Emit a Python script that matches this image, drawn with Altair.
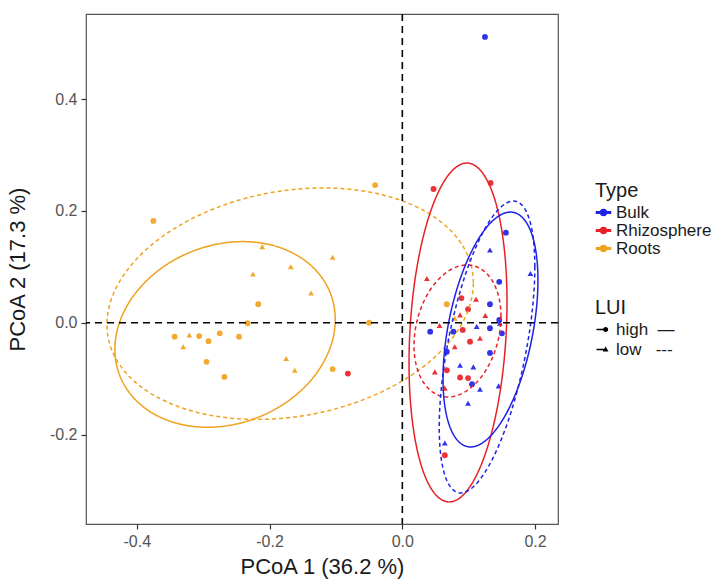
import numpy as np
import pandas as pd
import altair as alt

# PCoA sample scores (axis 1, axis 2) per compartment and land-use intensity
bulk_x = [0.1245, 0.156, 0.132, 0.193, 0.146, 0.132, 0.146, 0.147, 0.042, 0.077, 0.112,
          0.132, 0.150, 0.067, 0.132, 0.087, 0.107, 0.105, 0.117, 0.145, 0.099, 0.064]
bulk_y = [0.511, 0.161, 0.130, 0.088, 0.073, 0.033, 0.005, -0.001, -0.016, -0.016, -0.007,
          -0.010, -0.019, -0.052, -0.054, -0.076, -0.079, -0.110, -0.119, -0.113, -0.144, -0.215]
bulk_lui = ["high", "high", "low", "low", "high", "high", "high", "low", "high", "high", "low",
            "high", "high", "high", "high", "low", "low", "high", "low", "low", "low", "low"]

rhizo_x = [0.047, 0.133, -0.082, 0.037, 0.089, 0.111, 0.099, 0.087, 0.125, 0.056,
           0.091, 0.079, 0.102, 0.117, 0.049, 0.067, 0.087, 0.099, 0.064, 0.064]
rhizo_y = [0.239, 0.250, -0.091, 0.079, 0.044, 0.042, 0.024, 0.014, 0.013, -0.005,
           -0.013, -0.043, -0.034, -0.028, -0.088, -0.085, -0.098, -0.099, -0.117, -0.237]
rhizo_lui = ["high", "high", "high", "low", "high", "low", "high", "low", "low", "low",
             "high", "low", "high", "low", "low", "high", "high", "high", "low", "high"]

roots_x = [-0.375, -0.041, -0.211, -0.105, -0.168, -0.225, -0.1375, -0.217, -0.233, -0.050,
           -0.343, -0.321, -0.306, -0.292, -0.275, -0.246, -0.330, -0.295, -0.175, -0.268,
           -0.162, -0.105, 0.067, 0.079]
roots_y = [0.182, 0.246, 0.136, 0.117, 0.100, 0.087, 0.053, 0.033, -0.001, 0.000,
           -0.025, -0.022, -0.024, -0.033, -0.019, -0.025, -0.043, -0.070, -0.064, -0.097,
           -0.085, -0.083, 0.033, 0.008]
roots_lui = ["high", "high", "low", "low", "low", "low", "low", "high", "high", "high",
             "high", "low", "high", "high", "high", "high", "low", "high", "low", "high",
             "low", "high", "high", "low"]

# Confidence ellipses: centre, half-extent along each axis and correlation
ell_type = ["Roots", "Roots", "Rhizosphere", "Rhizosphere", "Bulk", "Bulk"]
ell_lui = ["high", "low", "high", "low", "high", "low"]
ell_cx = [-0.267, -0.169, 0.0839, 0.0831, 0.1328, 0.1276]
ell_cy = [-0.021, 0.034, -0.0175, -0.0148, -0.0122, -0.0435]
ell_rx = [0.166, 0.276, 0.0738, 0.0655, 0.0715, 0.072]
ell_ry = [0.166, 0.207, 0.303, 0.118, 0.210, 0.261]
ell_rho = [0.16, 0.18, 0.18, 0.22, 0.42, 0.55]

type_names = ["Bulk", "Rhizosphere", "Roots"]
type_colors = ["#1E22E6", "#E82127", "#F0A21E"]
lui_levels = ["high", "low"]

points = pd.concat([
    pd.DataFrame({"Type": "Bulk", "LUI": bulk_lui, "PCoA1": bulk_x, "PCoA2": bulk_y}),
    pd.DataFrame({"Type": "Rhizosphere", "LUI": rhizo_lui, "PCoA1": rhizo_x, "PCoA2": rhizo_y}),
    pd.DataFrame({"Type": "Roots", "LUI": roots_lui, "PCoA1": roots_x, "PCoA2": roots_y}),
], ignore_index=True)

# Ellipse outlines traced from their parameters
theta = np.linspace(0, 2 * np.pi, 181)
frames = []
for typ, lui, cx, cy, rx, ry, rho in zip(ell_type, ell_lui, ell_cx, ell_cy, ell_rx, ell_ry, ell_rho):
    shift = np.arccos(rho)
    frames.append(pd.DataFrame({
        "Type": typ, "LUI": lui, "grp": typ + "-" + lui, "i": np.arange(len(theta)),
        "PCoA1": cx + rx * np.cos(theta),
        "PCoA2": cy + ry * np.cos(theta - shift),
    }))
ellipses = pd.concat(frames, ignore_index=True)

minus_fix = "replace(format(datum.value, '.1f'), '\u2212', '-')"

x_enc = alt.X("PCoA1:Q",
              scale=alt.Scale(domain=[-0.4765, 0.2345], nice=False, zero=False),
              axis=alt.Axis(values=[-0.4, -0.2, 0.0, 0.2], labelExpr=minus_fix,
                            title="PCoA 1 (36.2 %)", titlePadding=7, labelPadding=4))
y_enc = alt.Y("PCoA2:Q",
              scale=alt.Scale(domain=[-0.360, 0.552], nice=False, zero=False),
              axis=alt.Axis(values=[-0.2, 0.0, 0.2, 0.4], labelExpr=minus_fix,
                            title="PCoA 2 (17.3 %)", titlePadding=20, labelPadding=4))

# Legend keys: a thin bar (the line) with the point glyph on top, all filled
type_symbol = ("M-1,-0.09H1V0.09H-1Z"
               "M-0.42,0A0.42,0.42,0,1,1,0.42,0A0.42,0.42,0,1,1,-0.42,0Z")
high_symbol = ("M-1,-0.09H0.3V0.09H-1Z"
               "M-0.05,0A0.36,0.36,0,1,1,0.67,0A0.36,0.36,0,1,1,-0.05,0Z")
low_symbol = ("M-1,-0.09H0.3V0.09H-1Z"
              "M0.3,-0.42L0.72,0.3L-0.12,0.3Z")

color_enc = alt.Color(
    "Type:N",
    scale=alt.Scale(domain=type_names, range=type_colors),
    legend=alt.Legend(
        title="Type", orient="none", legendX=509, legendY=167,
        symbolType=type_symbol, symbolSize=196, symbolOpacity=1,
        labelFontSize=17, titleFontSize=20, rowPadding=0, titlePadding=3, labelOffset=4,
    ),
)

point_layer = alt.Chart(points).mark_point(filled=True, size=34, opacity=0.92).encode(
    x=x_enc, y=y_enc, color=color_enc,
    shape=alt.Shape("LUI:N",
                    scale=alt.Scale(domain=lui_levels, range=["circle", "triangle-up"]),
                    legend=None),
)

ellipse_layer = alt.Chart(ellipses).mark_line(strokeWidth=1.5, clip=True).encode(
    x=x_enc, y=y_enc, color=color_enc,
    strokeDash=alt.StrokeDash("LUI:N",
                              scale=alt.Scale(domain=lui_levels, range=[[1, 0], [4, 3]]),
                              legend=None),
    detail="grp:N", order="i:Q",
)

# Key for the LUI levels (no marks of its own; the legend comes from its scale)
lui_key = alt.Chart(points).transform_filter("datum.PCoA1 > 10").mark_point(
    filled=True, color="black").encode(
    x=x_enc, y=y_enc,
    shape=alt.Shape("LUI:N",
                    scale=alt.Scale(domain=lui_levels, range=[high_symbol, low_symbol]),
                    legend=alt.Legend(
                        title="LUI", orient="none", legendX=509, legendY=284,
                        labelExpr="datum.label == 'high' ? 'high\u00a0\u00a0\u2014' : 'low\u00a0\u00a0\u00a0---'",
                        symbolSize=196, symbolOpacity=1,
                        symbolFillColor="black", symbolStrokeColor="black",
                        labelFontSize=17, titleFontSize=20, rowPadding=2, titlePadding=3,
                        labelOffset=4)),
)

vline = alt.Chart(pd.DataFrame({"PCoA1": [0.0]})).mark_rule(
    color="black", strokeWidth=1.6, strokeDash=[7, 5]).encode(x="PCoA1:Q")
hline = alt.Chart(pd.DataFrame({"PCoA2": [0.0]})).mark_rule(
    color="black", strokeWidth=1.6, strokeDash=[7, 5]).encode(y="PCoA2:Q")

chart = alt.layer(point_layer, ellipse_layer, lui_key, vline, hline).resolve_scale(
    shape="independent",
).properties(
    width=472, height=510,
    autosize=alt.AutoSizeParams(type="none"),
    padding={"left": 86, "top": 14, "right": 162, "bottom": 57},
).configure(
    font="Liberation Sans",
).configure_view(
    stroke="#555555", strokeWidth=1.2,
).configure_axis(
    domain=False, grid=False, labelFontSize=16, labelColor="#555555",
    tickColor="#333333", tickSize=5, tickWidth=1.2,
    titleFontSize=22, titleFontWeight="normal", titleColor="#1a1a1a",
).configure_legend(
    titleFontWeight="normal", titleColor="#1a1a1a", labelColor="#1a1a1a",
)

chart.save("out.html", embed_options={"renderer": "svg", "actions": False})
